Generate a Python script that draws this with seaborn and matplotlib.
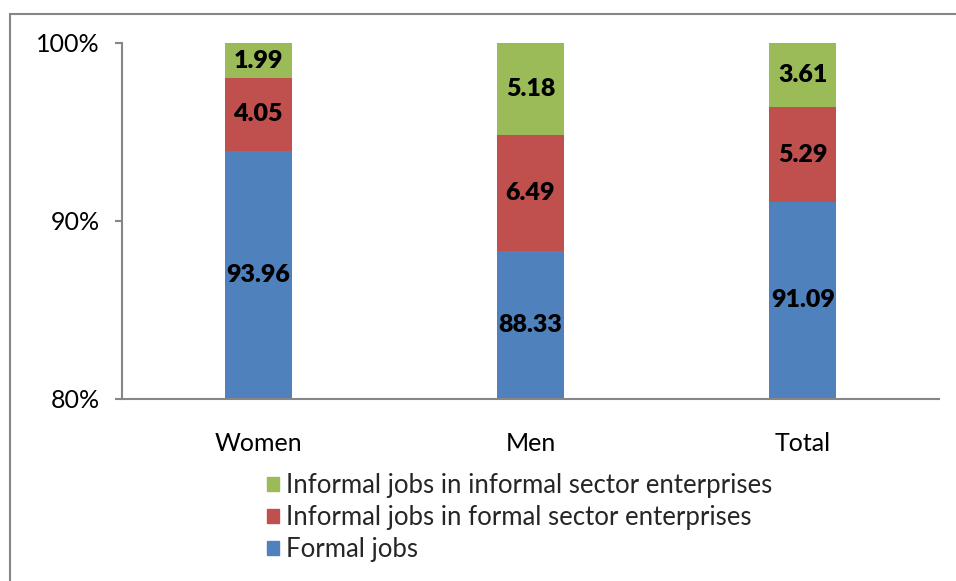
import matplotlib
matplotlib.use("Agg")
import matplotlib.pyplot as plt
import matplotlib.patches as mpatches
from matplotlib.ticker import FuncFormatter
import seaborn as sns
import pandas as pd
import numpy as np

categories = ["Women", "Men", "Total"]
formal = [93.96, 88.33, 91.09]
informal_formal = [4.05, 6.49, 5.29]
informal_informal = [1.99, 5.18, 3.61]
series_names = ["Formal jobs",
                "Informal jobs in formal sector enterprises",
                "Informal jobs in informal sector enterprises"]
colors = ["#4F81BD", "#C0504D", "#9BBB59"]
y_ticks = [80, 90, 100]

sns.set_theme(style="white")
plt.rcParams["font.family"] = ["Lato", "DejaVu Sans"]

fig = plt.figure(figsize=(9.56, 5.81), dpi=100)
ax = fig.add_axes([122 / 956, 1 - 399 / 581, (939 - 122) / 956, (399 - 43) / 581])

values = [formal, informal_formal, informal_informal]
cum = np.cumsum(np.array(values), axis=0)

# draw back-to-front so cumulative bars stack visually
for i in reversed(range(3)):
    df = pd.DataFrame({"cat": categories, "val": cum[i]})
    sns.barplot(data=df, x="cat", y="val", color=colors[i], width=0.246,
                saturation=1, linewidth=0, ax=ax, order=categories)

ymin, ymax = 80, 100
ax.set_ylim(ymin, ymax)
ax.set_xlim(-0.5, 2.5)
ax.set_xlabel("")
ax.set_ylabel("")

# labels centered in visible portion
for i in range(3):
    for j, cat in enumerate(categories):
        top = cum[i][j]
        bottom = cum[i - 1][j] if i > 0 else 0
        vb = max(bottom, ymin)
        vt = min(top, ymax)
        ax.text(j, (vb + vt) / 2, f"{values[i][j]:.2f}", ha="center", va="center",
                fontsize=18, fontweight="heavy", color="black")

ax.set_yticks(y_ticks)
ax.yaxis.set_major_formatter(FuncFormatter(lambda v, p: f"{v:.0f}%"))
spine_c = "#868686"
for s in ["top", "right"]:
    ax.spines[s].set_visible(False)
for s in ["left", "bottom"]:
    ax.spines[s].set_color(spine_c)
    ax.spines[s].set_linewidth(1.5)
ax.tick_params(axis="y", which="major", left=True, length=5, width=1.5, color=spine_c,
               direction="out", pad=11, labelsize=18, labelcolor="black")
ax.tick_params(axis="x", length=0, pad=24, labelsize=18, labelcolor="black")

handles = [mpatches.Patch(color=colors[i], label=series_names[i]) for i in reversed(range(3))]
fig.legend(handles=handles, loc="upper left", bbox_to_anchor=(267 / 956, 1 - 473 / 581),
           frameon=False, fontsize=18.5, handlelength=0.47, handleheight=0.47,
           handletextpad=0.25, labelspacing=0.27, borderpad=0, borderaxespad=0)

# outer chart border (partly outside the image)
fig.add_artist(mpatches.Rectangle((10 / 956, -0.1), 1.2, 1 - 14 / 581 + 0.1,
                                  transform=fig.transFigure, fill=False,
                                  edgecolor=spine_c, linewidth=1.5))

fig.savefig("out.png", dpi=100)
